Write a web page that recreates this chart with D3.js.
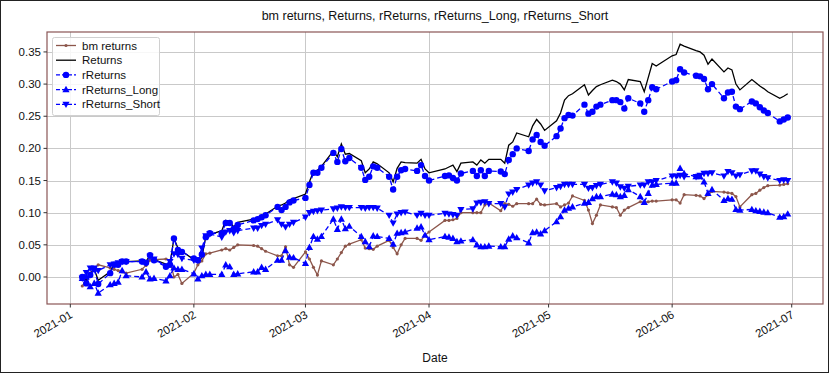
<!DOCTYPE html>
<html>
<head>
<meta charset="utf-8">
<script src="https://cdn.jsdelivr.net/npm/d3@7"></script>
<style>
  body { margin: 0; background: #fff; }
  text { font-family: "Liberation Sans", Arial, sans-serif; }
</style>
</head>
<body>
<div id="chart"></div>
<script>
// --- Data ---
const dates = [
  "2021-01-04","2021-01-05","2021-01-06","2021-01-07","2021-01-08","2021-01-11","2021-01-12","2021-01-13","2021-01-14","2021-01-15",
  "2021-01-19","2021-01-20","2021-01-21","2021-01-22","2021-01-25","2021-01-26","2021-01-27","2021-01-28","2021-01-29",
  "2021-02-01","2021-02-02","2021-02-03","2021-02-04","2021-02-05","2021-02-08","2021-02-09","2021-02-10","2021-02-11","2021-02-12",
  "2021-02-16","2021-02-17","2021-02-18","2021-02-19","2021-02-22","2021-02-23","2021-02-24","2021-02-25","2021-02-26",
  "2021-03-01","2021-03-02","2021-03-03","2021-03-04","2021-03-05","2021-03-08","2021-03-09","2021-03-10","2021-03-11","2021-03-12",
  "2021-03-15","2021-03-16","2021-03-17","2021-03-18","2021-03-19","2021-03-22","2021-03-23","2021-03-24","2021-03-25","2021-03-26",
  "2021-03-29","2021-03-30","2021-03-31",
  "2021-04-01","2021-04-05","2021-04-06","2021-04-07","2021-04-08","2021-04-09","2021-04-12","2021-04-13","2021-04-14","2021-04-15",
  "2021-04-16","2021-04-19","2021-04-20","2021-04-21","2021-04-22","2021-04-23","2021-04-26","2021-04-27","2021-04-28","2021-04-29","2021-04-30",
  "2021-05-03","2021-05-04","2021-05-05","2021-05-06","2021-05-07","2021-05-10","2021-05-11","2021-05-12","2021-05-13","2021-05-14",
  "2021-05-17","2021-05-18","2021-05-19","2021-05-20","2021-05-21","2021-05-24","2021-05-25","2021-05-26","2021-05-27","2021-05-28",
  "2021-06-01","2021-06-02","2021-06-03","2021-06-04","2021-06-07","2021-06-08","2021-06-09","2021-06-10","2021-06-11","2021-06-14",
  "2021-06-15","2021-06-16","2021-06-17","2021-06-18","2021-06-21","2021-06-22","2021-06-23","2021-06-24","2021-06-25","2021-06-28",
  "2021-06-29","2021-06-30"
];

const bmReturns = [
  -0.014,-0.004,0.006,0.013,0.019,0.014,0.012,0.010,0.008,0.006,0.012,0.018,0.026,0.027,0.028,0.026,0.000,0.004,-0.010,
  0.006,0.019,0.025,0.036,0.037,0.042,0.044,0.042,0.046,0.050,0.049,0.048,0.044,0.040,0.033,0.033,0.047,0.019,0.015,
  0.039,0.028,0.015,0.003,0.025,0.019,0.028,0.038,0.048,0.051,0.058,0.045,0.044,0.043,0.048,0.057,0.046,0.036,0.050,0.060,0.060,0.057,0.065,
  0.070,0.088,0.088,0.089,0.091,0.100,0.100,0.100,0.100,0.112,0.115,0.103,0.114,0.113,0.110,0.114,0.114,0.114,0.121,0.113,0.112,
  0.114,0.109,0.112,0.115,0.126,0.119,0.104,0.083,0.096,0.112,0.109,0.108,0.096,0.104,0.108,0.117,0.116,0.117,0.118,0.118,
  0.120,0.120,0.115,0.128,0.127,0.126,0.122,0.128,0.133,0.132,0.131,0.130,0.125,0.109,0.128,0.130,0.135,0.139,0.142,0.143,0.144,0.145
];

const returns = [
  0.000,-0.005,0.005,0.012,-0.005,0.008,0.020,0.020,0.024,0.024,0.025,0.024,0.034,0.027,0.020,0.020,0.060,0.045,0.040,
  0.027,0.025,0.030,0.063,0.066,0.072,0.088,0.086,0.078,0.085,0.090,0.092,0.095,0.098,0.110,0.112,0.115,0.120,0.122,
  0.129,0.148,0.164,0.166,0.172,0.196,0.187,0.207,0.191,0.192,0.181,0.162,0.168,0.179,0.176,0.162,0.148,0.169,0.179,0.178,0.177,0.183,0.168,
  0.162,0.168,0.171,0.174,0.164,0.177,0.179,0.174,0.182,0.177,0.183,0.183,0.177,0.205,0.210,0.224,0.218,0.235,0.245,0.238,0.228,
  0.243,0.255,0.275,0.282,0.285,0.299,0.283,0.290,0.296,0.299,0.306,0.304,0.300,0.291,0.307,0.304,0.288,0.310,0.332,0.328,
  0.344,0.346,0.362,0.359,0.352,0.350,0.345,0.331,0.339,0.319,0.325,0.322,0.300,0.291,0.307,0.302,0.297,0.293,0.288,0.278,0.281,0.285
];

const rReturns = [
  0.000,-0.010,0.003,0.012,-0.011,0.006,0.019,0.019,0.024,0.024,0.024,0.022,0.034,0.026,0.016,0.019,0.060,0.042,0.039,
  0.029,0.026,0.035,0.062,0.068,0.068,0.084,0.084,0.075,0.081,0.088,0.090,0.093,0.096,0.109,0.104,0.109,0.116,0.119,
  0.123,0.143,0.162,0.162,0.170,0.193,0.179,0.199,0.180,0.185,0.170,0.151,0.156,0.172,0.170,0.156,0.136,0.156,0.166,0.168,0.165,0.174,0.157,
  0.150,0.157,0.158,0.154,0.150,0.161,0.165,0.157,0.166,0.157,0.165,0.164,0.160,0.182,0.191,0.200,0.196,0.214,0.221,0.210,0.204,
  0.219,0.231,0.247,0.252,0.251,0.268,0.254,0.257,0.265,0.268,0.275,0.275,0.272,0.262,0.278,0.270,0.257,0.275,0.295,0.292,
  0.304,0.306,0.323,0.318,0.313,0.312,0.308,0.292,0.300,0.278,0.287,0.288,0.265,0.261,0.273,0.270,0.264,0.259,0.255,0.242,0.245,0.248
];

const rReturnsLong = [
  -0.002,0.000,-0.015,-0.010,-0.025,-0.012,-0.010,-0.008,0.010,0.002,0.000,0.008,-0.003,-0.002,-0.006,0.002,0.014,0.012,0.012,
  0.005,-0.003,0.002,0.004,0.004,0.004,0.019,0.016,0.004,0.005,0.008,0.008,0.015,0.012,0.026,0.026,0.041,0.031,0.030,
  0.021,0.046,0.063,0.059,0.063,0.090,0.074,0.090,0.075,0.079,0.063,0.055,0.047,0.064,0.063,0.060,0.051,0.068,0.069,0.070,0.076,0.078,0.065,
  0.058,0.063,0.062,0.060,0.055,0.056,0.058,0.050,0.047,0.047,0.048,0.047,0.047,0.059,0.064,0.061,0.053,0.069,0.070,0.067,0.072,
  0.086,0.094,0.104,0.107,0.109,0.115,0.116,0.122,0.125,0.125,0.129,0.128,0.125,0.127,0.136,0.125,0.116,0.130,0.143,0.144,
  0.146,0.146,0.169,0.161,0.156,0.156,0.148,0.130,0.136,0.119,0.122,0.121,0.105,0.104,0.105,0.103,0.102,0.101,0.100,0.093,0.094,0.098
];

const rReturnsShort = [
  -0.002,0.007,0.014,0.014,0.010,0.019,0.020,0.022,0.024,0.024,0.024,0.022,0.032,0.028,0.017,0.024,0.036,0.035,0.029,
  0.026,0.026,0.045,0.064,0.067,0.062,0.070,0.072,0.069,0.072,0.076,0.076,0.080,0.082,0.089,0.082,0.078,0.082,0.085,
  0.093,0.100,0.102,0.103,0.104,0.106,0.107,0.109,0.108,0.108,0.108,0.107,0.108,0.108,0.107,0.096,0.084,0.098,0.100,0.101,0.096,0.099,0.096,
  0.096,0.099,0.098,0.097,0.096,0.105,0.106,0.115,0.116,0.117,0.114,0.114,0.109,0.129,0.132,0.136,0.143,0.146,0.148,0.143,0.134,
  0.139,0.141,0.144,0.144,0.144,0.144,0.138,0.139,0.142,0.144,0.148,0.146,0.140,0.138,0.141,0.143,0.143,0.148,0.148,0.150,
  0.157,0.157,0.158,0.156,0.156,0.158,0.161,0.161,0.162,0.157,0.164,0.162,0.157,0.159,0.165,0.165,0.160,0.156,0.154,0.150,0.151,0.150
];

const yTicks = [0, 0.05, 0.10, 0.15, 0.20, 0.25, 0.30, 0.35];
const xTickLabels = ["2021-01","2021-02","2021-03","2021-04","2021-05","2021-06","2021-07"];

// --- Chart Dimensions ---
const width = 829;
const height = 373;
const margin = { top: 32, right: 6, bottom: 69, left: 47 };
const plotW = width - margin.left - margin.right;
const plotH = height - margin.top - margin.bottom;

const parse = d3.timeParse("%Y-%m-%d");
const parsedDates = dates.map(parse);

const svg = d3
  .select("#chart")
  .append("svg")
  .attr("width", width)
  .attr("height", height);

svg.append("rect")
  .attr("x", 0.5).attr("y", 0.5)
  .attr("width", width - 1).attr("height", height - 1)
  .attr("fill", "#fff")
  .attr("stroke", "#222");

// --- Scales (matplotlib-like 5% padding) ---
const [dMin, dMax] = d3.extent(parsedDates);
const pad = (dMax - dMin) * 0.05;
const x = d3.scaleTime()
  .domain([new Date(+dMin - pad), new Date(+dMax + pad)])
  .range([margin.left, margin.left + plotW]);

const y = d3.scaleLinear()
  .domain([-0.042, 0.381])
  .range([margin.top + plotH, margin.top]);

const xTicks = xTickLabels.map(d3.timeParse("%Y-%m"));

// --- Grid ---
const grid = svg.append("g").attr("stroke", "#c9c9c9").attr("stroke-width", 1);
grid.selectAll(".gx").data(xTicks).join("line")
  .attr("x1", (d) => Math.round(x(d)) + 0.5).attr("x2", (d) => Math.round(x(d)) + 0.5)
  .attr("y1", margin.top).attr("y2", margin.top + plotH);
grid.selectAll(".gy").data(yTicks).join("line")
  .attr("x1", margin.left).attr("x2", margin.left + plotW)
  .attr("y1", (d) => Math.round(y(d)) + 0.5).attr("y2", (d) => Math.round(y(d)) + 0.5);

// --- Series ---
const series = [
  { name: "bm returns", values: bmReturns, color: "#8c564b", dash: null, marker: "dot" },
  { name: "Returns", values: returns, color: "#000", dash: null, marker: null },
  { name: "rReturns", values: rReturns, color: "#0000ff", dash: "5,3", marker: "circle" },
  { name: "rReturns_Long", values: rReturnsLong, color: "#0000ff", dash: "5,3", marker: "up" },
  { name: "rReturns_Short", values: rReturnsShort, color: "#0000ff", dash: "5,3", marker: "down" },
];

const line = d3.line()
  .x((d) => x(d[0]))
  .y((d) => y(d[1]));

function drawMarker(g, kind, color, cx, cy) {
  if (kind === "dot") {
    g.append("circle").attr("cx", cx).attr("cy", cy).attr("r", 1.6).attr("fill", color);
  } else if (kind === "circle") {
    g.append("circle").attr("cx", cx).attr("cy", cy).attr("r", 3.2).attr("fill", color);
  } else if (kind === "up") {
    g.append("path").attr("d", `M${cx},${cy - 3.8}L${cx + 3.6},${cy + 2.6}L${cx - 3.6},${cy + 2.6}Z`).attr("fill", color);
  } else if (kind === "down") {
    g.append("path").attr("d", `M${cx},${cy + 3.8}L${cx + 3.6},${cy - 2.6}L${cx - 3.6},${cy - 2.6}Z`).attr("fill", color);
  }
}

const plot = svg.append("g");
series.forEach((s) => {
  const pts = parsedDates.map((d, i) => [d, s.values[i]]);
  plot.append("path")
    .attr("d", line(pts))
    .attr("fill", "none")
    .attr("stroke", s.color)
    .attr("stroke-width", 1.3)
    .attr("stroke-dasharray", s.dash);
  if (s.marker) {
    const mg = plot.append("g");
    pts.forEach((p) => drawMarker(mg, s.marker, s.color, x(p[0]), y(p[1])));
  }
});

// --- Spines ---
svg.append("rect")
  .attr("x", margin.left).attr("y", margin.top)
  .attr("width", plotW).attr("height", plotH)
  .attr("fill", "none")
  .attr("stroke", "#8a5555")
  .attr("stroke-width", 1.2);

// --- Axes ---
const yAxis = svg.append("g");
yTicks.forEach((t) => {
  const yy = y(t);
  yAxis.append("line").attr("x1", margin.left - 3.5).attr("x2", margin.left)
    .attr("y1", yy).attr("y2", yy).attr("stroke", "#333");
  yAxis.append("text")
    .attr("x", margin.left - 6).attr("y", yy + 4)
    .attr("text-anchor", "end")
    .attr("font-size", 11.5)
    .attr("fill", "#111")
    .text(d3.format(".2f")(t));
});

const xAxis = svg.append("g");
xTicks.forEach((t, i) => {
  const xx = x(t);
  const base = margin.top + plotH;
  xAxis.append("line").attr("x1", xx).attr("x2", xx)
    .attr("y1", base).attr("y2", base + 3.5).attr("stroke", "#333");
  xAxis.append("text")
    .attr("transform", `translate(${xx + 3},${base + 13}) rotate(-30)`)
    .attr("text-anchor", "end")
    .attr("font-size", 11.5)
    .attr("fill", "#111")
    .text(xTickLabels[i]);
});

svg.append("text")
  .attr("x", margin.left + plotW / 2).attr("y", 362)
  .attr("text-anchor", "middle")
  .attr("font-size", 12)
  .attr("fill", "#111")
  .text("Date");

svg.append("text")
  .attr("x", margin.left + plotW / 2).attr("y", 20)
  .attr("text-anchor", "middle")
  .attr("font-size", 12.5)
  .attr("fill", "#111")
  .text("bm returns, Returns, rReturns, rReturns_Long, rReturns_Short");

// --- Legend ---
const legend = svg.append("g");
legend.append("rect")
  .attr("x", 52.5).attr("y", 37.5)
  .attr("width", 107).attr("height", 78)
  .attr("rx", 2)
  .attr("fill", "#fff").attr("fill-opacity", 0.85)
  .attr("stroke", "#d0d0d0");
series.forEach((s, i) => {
  const ly = 45.5 + i * 14.7;
  legend.append("line")
    .attr("x1", 56).attr("x2", 76)
    .attr("y1", ly).attr("y2", ly)
    .attr("stroke", s.color).attr("stroke-width", 1.3)
    .attr("stroke-dasharray", s.dash ? "4,2" : null);
  if (s.marker) drawMarker(legend, s.marker, s.color, 66, ly);
  legend.append("text")
    .attr("x", 82).attr("y", ly + 4)
    .attr("font-size", 11.5)
    .attr("fill", "#111")
    .text(s.name);
});
</script>
</body>
</html>
